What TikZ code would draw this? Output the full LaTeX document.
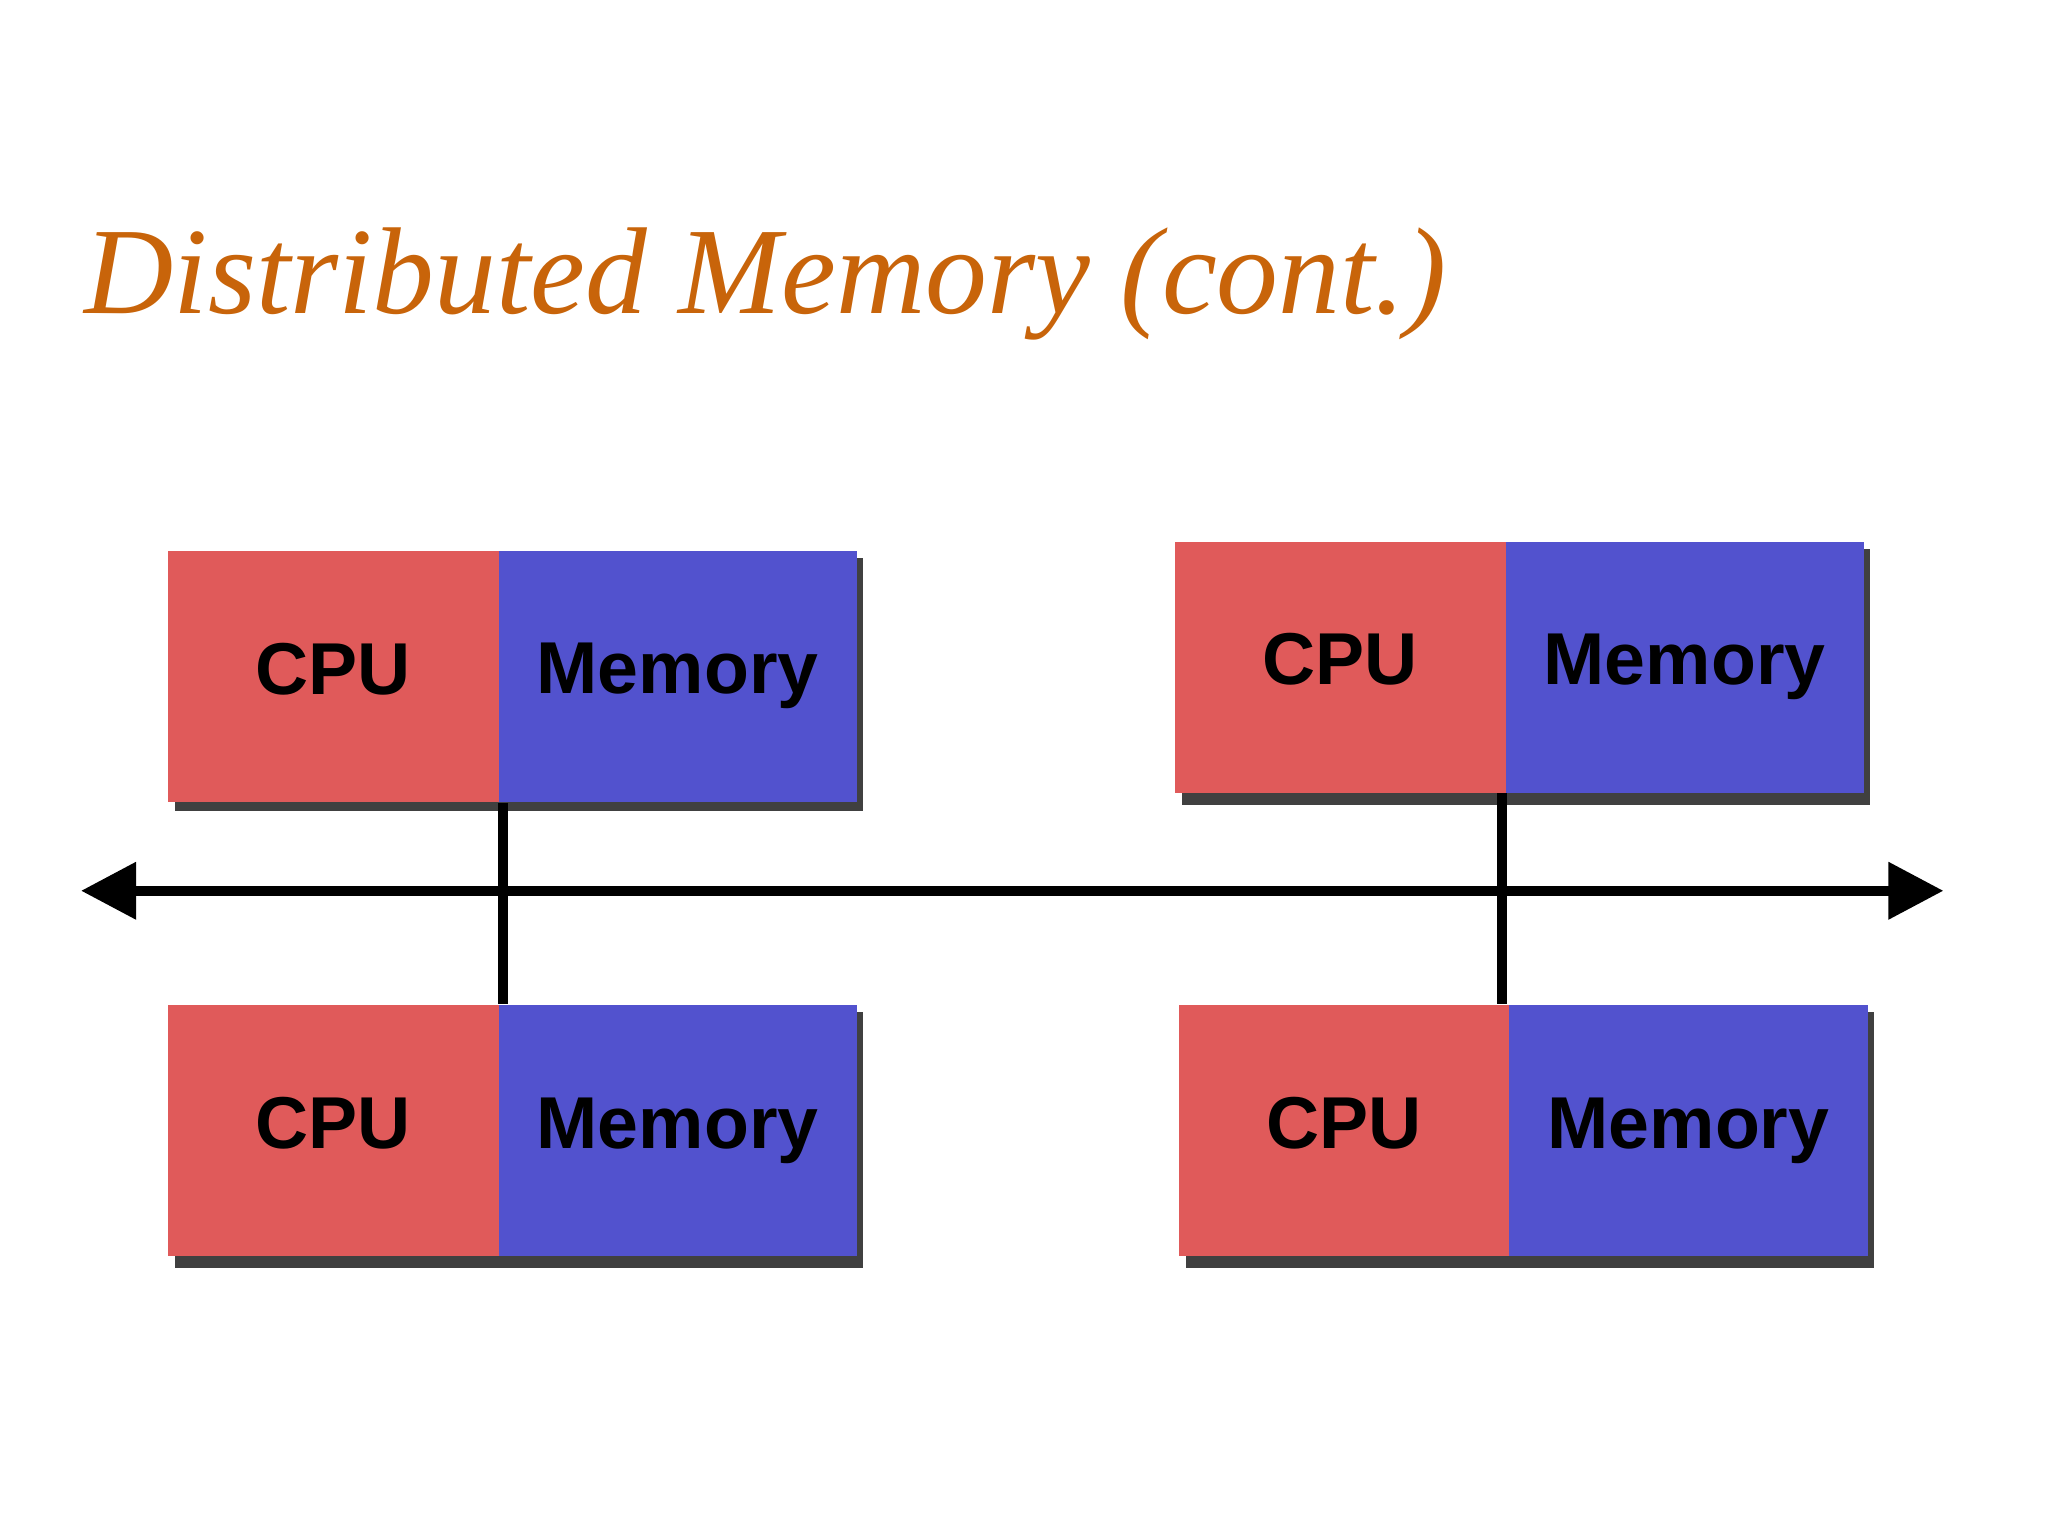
\documentclass[tikz,border=0pt]{standalone}
\usepackage{fontspec}
\setmainfont{Liberation Serif}
\newfontfamily\boxfont{Liberation Sans}
\usetikzlibrary{arrows.meta,calc}
\definecolor{cpuc}{HTML}{E05A5A}
\definecolor{memc}{HTML}{5252CE}
\definecolor{titlec}{HTML}{C8640A}
\begin{document}
\begin{tikzpicture}[x=0.01cm,y=-0.01cm,
  blk/.style={draw=none,minimum height=1.92cm,inner sep=0pt,text depth=0.12cm,font=\boxfont\bfseries\fontsize{16}{16}\selectfont,text=black},
  cpu/.style={blk,fill=cpuc,minimum width=2.53cm},
  mem/.style={blk,fill=memc,minimum width=2.74cm},
  shd/.style={fill=black!75},
  wire/.style={line width=2.2pt,black}]
\useasboundingbox (0,0) rectangle (1568,1176);
\node[font=\itshape\fontsize{26.9}{27}\selectfont,text=titlec,anchor=base west,inner sep=0pt] (title) at (64,240) {Distributed Memory (cont.)};
% shadows
\fill[shd] (134,612) rectangle (661,621); \fill[shd] (655,427) rectangle (661,621);
\fill[shd] (905,607) rectangle (1432,616); \fill[shd] (1426,420) rectangle (1432,616);
\fill[shd] (134,962) rectangle (661,971); \fill[shd] (655,775) rectangle (661,971);
\fill[shd] (908,962) rectangle (1435,971); \fill[shd] (1429,775) rectangle (1435,971);
% boxes
\node[cpu,anchor=north west] (c1) at (128,421) {CPU};
\node[mem,anchor=north west] (m1) at (381,421) {Memory};
\node[cpu,anchor=north west] (c2) at (899,414) {CPU};
\node[mem,anchor=north west] (m2) at (1152,414) {Memory};
\node[cpu,anchor=north west] (c3) at (128,769) {CPU};
\node[mem,anchor=north west] (m3) at (381,769) {Memory};
\node[cpu,anchor=north west] (c4) at (902,769) {CPU};
\node[mem,anchor=north west] (m4) at (1155,769) {Memory};
% bus
\coordinate (bl) at (62,682);
\coordinate (br) at (1488,682);
\draw[wire,{Triangle[length=12pt,width=12pt]}-{Triangle[length=12pt,width=12pt]}] (bl) -- (br);
\draw[wire] ($(m1.south west)+(4,0)$) -- ($(m3.north west)+(4,0)$);
\draw[wire] ($(m2.south west)+(-2,0)$) -- ($(m4.north west)+(-5,0)$);
\end{tikzpicture}
\end{document}
